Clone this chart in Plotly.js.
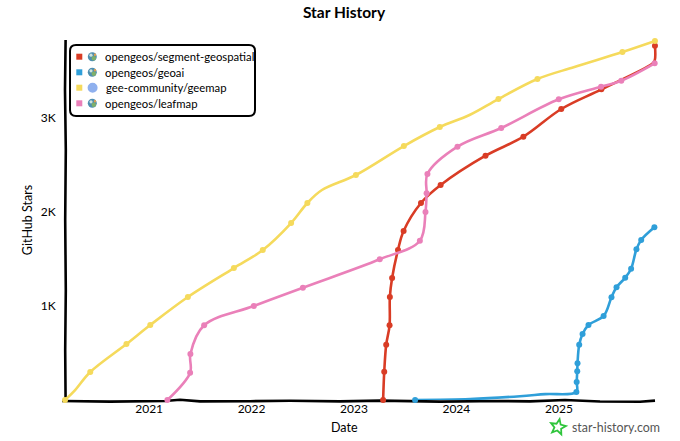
<!DOCTYPE html>
<html><head><meta charset="utf-8">
<script src="https://cdn.plot.ly/plotly-3.0.1.min.js"></script>
<style>html,body{margin:0;padding:0;background:#fff}</style></head>
<body><div id="chart" style="width:680px;height:441px"></div>
<script>
const seriesNames = ["opengeos/segment-geospatial","opengeos/geoai","gee-community/geemap","opengeos/leafmap"];
const seriesColors = ["#d93c25","#2f9fd9","#f5da5c","#ea80b9"];

const segmentDates = ["2023-04-15","2023-04-19","2023-04-26","2023-05-08","2023-05-09","2023-05-17","2023-06-07","2023-06-27","2023-08-28","2023-11-06","2024-04-14","2024-08-27","2025-01-09","2025-06-01","2025-11-28","2025-12-08","2025-12-09"];
const segmentStars = [0,301,588,795,1096,1298,1596,1798,2096,2287,2599,2801,3096,3305,3575,3610,3769];
const segmentHidden = [14,15];

const geoaiDates = ["2023-08-07","2024-02-19","2024-08-15","2024-11-13","2025-03-04","2025-03-05","2025-03-07","2025-03-08","2025-03-14","2025-03-26","2025-04-16","2025-06-09","2025-07-07","2025-07-25","2025-08-25","2025-09-15","2025-10-04","2025-10-21","2025-12-07"];
const geoaiStars = [0,10,40,62,85,191,305,390,588,702,798,894,1093,1199,1301,1397,1603,1702,1837];
const geoaiHidden = [1,2,3];

const geemapDates = ["2020-03-07","2020-04-12","2020-06-05","2020-10-12","2021-01-05","2021-05-19","2021-10-30","2022-02-10","2022-05-22","2022-07-19","2022-09-09","2023-01-08","2023-06-28","2023-11-03","2024-02-17","2024-05-30","2024-10-16","2025-02-25","2025-08-15","2025-12-09"];
const geemapStars = [0,106,298,596,798,1096,1404,1596,1883,2096,2234,2394,2702,2904,3032,3202,3415,3543,3702,3819];
const geemapHidden = [1,10,14,17];

const leafmapDates = ["2021-03-07","2021-05-27","2021-05-28","2021-07-16","2022-01-09","2022-07-03","2023-04-03","2023-08-24","2023-09-13","2023-09-17","2023-09-20","2024-01-05","2024-06-09","2024-12-31","2025-05-31","2025-08-11","2025-12-08"];
const leafmapStars = [0,290,489,795,1000,1195,1497,1695,2000,2199,2404,2695,2894,3199,3333,3397,3582];
const leafmapHidden = [];

const xTickVals = ["2021-01-01","2022-01-01","2023-01-01","2024-01-01","2025-01-01"];
const xTickText = ["2021","2022","2023","2024","2025"];
const yTickVals = [1000,2000,3000];
const yTickText = ["1K","2K","3K"];

const W=680,H=441,L=65,R=20,T=40,B=41;
const px=x=>(x-L)/(W-L-R), py=y=>(H-B-y)/(H-T-B);
const FONT='Lato, "Open Sans", sans-serif';

function tr(i,x,y,hidden){
  return {type:"scatter",mode:"lines+markers",name:seriesNames[i],x:x,y:y,showlegend:false,cliponaxis:false,
    line:{color:seriesColors[i],width:2.6,shape:"spline",smoothing:1},
    marker:{color:seriesColors[i],size:6,opacity:x.map((d,k)=>hidden.includes(k)?0:1)},hoverinfo:"x+y"};
}
const data=[
  tr(0,segmentDates,segmentStars,segmentHidden),
  tr(1,geoaiDates,geoaiStars,geoaiHidden),
  tr(2,geemapDates,geemapStars,geemapHidden),
  tr(3,leafmapDates,leafmapStars,leafmapHidden)
];

const shapes=[];
// hand-drawn axis lines
const baseWobble=[[62,401],[110,401.6],[165,401],[180,399.8],[200,401.4],[250,401.2],[290,400.8],[340,401.4],[380,400.6],[440,401.6],[500,401],[530,401.4],[565,400],[600,401.5],[640,401.8],[655,400.6]];
const leftWobble=[[65.6,40],[65,90],[65.8,150],[65.2,220],[65.8,290],[65.2,350],[65.6,401]];
[baseWobble,leftWobble].forEach(w=>shapes.push({type:"path",layer:"below",xref:"paper",yref:"paper",line:{color:"#000",width:2.6},
  path:"M"+w.map(p=>px(p[0])+","+py(p[1])).join(" L")}));
// legend box
const bx0=70,bx1=255,by0=45,by1=116,r=6;
shapes.push({type:"path",xref:"paper",yref:"paper",fillcolor:"rgba(255,255,255,0.9)",line:{color:"#000",width:2},
 path:`M${px(bx0+r)},${py(by0)} L${px(bx1-r)},${py(by0)} Q${px(bx1)},${py(by0)} ${px(bx1)},${py(by0+r)} L${px(bx1)},${py(by1-r)} Q${px(bx1)},${py(by1)} ${px(bx1-r)},${py(by1)} L${px(bx0+r)},${py(by1)} Q${px(bx0)},${py(by1)} ${px(bx0)},${py(by1-r)} L${px(bx0)},${py(by0+r)} Q${px(bx0)},${py(by0)} ${px(bx0+r)},${py(by0)} Z`});
const rows=[56.7,72.3,87.7,103.3];
const annotations=[];
function circ(cx,cy,rad,col){shapes.push({type:"circle",xref:"paper",yref:"paper",x0:px(cx-rad),x1:px(cx+rad),y0:py(cy+rad),y1:py(cy-rad),fillcolor:col,line:{width:0}});}
rows.forEach((y,i)=>{
  shapes.push({type:"rect",xref:"paper",yref:"paper",x0:px(76.3),x1:px(82.3),y0:py(y+3),y1:py(y-3),fillcolor:seriesColors[i],line:{width:0}});
  if(i===2){circ(92.6,y,5,"#8fb0ee");}
  else{circ(92.3,y,4.5,"#4f8fb0");circ(93.8,y+1.5,2.2,"#7fb069");circ(91,y-1.5,1.6,"#cfe3dc");circ(95,y-2,1.2,"#e0a050");}
  annotations.push({xref:"paper",yref:"paper",x:px(i===2?104:103),y:py(y),xanchor:"left",yanchor:"middle",showarrow:false,text:seriesNames[i],font:{family:FONT,size:11.3,color:"#000"}});
});
// star logo
const sc=[558,427],pts=[];
for(let k=0;k<10;k++){const a=-Math.PI/2+k*Math.PI/5+0.2,rr=k%2?3.6:8;pts.push([sc[0]+rr*Math.cos(a),sc[1]+rr*Math.sin(a)]);}
shapes.push({type:"path",xref:"paper",yref:"paper",fillcolor:"rgba(0,0,0,0)",line:{color:"#2fc53c",width:1.8},
 path:"M"+pts.map(p=>px(p[0])+","+py(p[1])).join(" L")+" Z"});
annotations.push({xref:"paper",yref:"paper",x:px(570),y:py(427),xanchor:"left",yanchor:"middle",showarrow:false,text:"star-history.com",font:{family:FONT,size:12.4,color:"#555"}});
annotations.push({xref:"paper",yref:"paper",x:px(344),y:py(427),xanchor:"center",yanchor:"middle",showarrow:false,text:"Date",font:{family:FONT,size:12.5,color:"#000"}});

const layout={
  width:W,height:H,margin:{l:L,r:R,t:T,b:B,pad:0},paper_bgcolor:"#fff",plot_bgcolor:"rgba(0,0,0,0)",showlegend:false,
  font:{family:FONT,color:"#000",size:12},
  title:{text:"<b>Star History</b>",x:344/W,xanchor:"center",y:1-13/H,yanchor:"middle",font:{family:FONT,size:15.5,color:"#000"}},
  xaxis:{type:"date",range:["2020-03-07","2025-12-27"],tickvals:xTickVals,ticktext:xTickText,showgrid:false,zeroline:false,
    showline:false,ticks:"",tickfont:{family:FONT,size:12,color:"#000"}},
  yaxis:{range:[0,3830],tickvals:yTickVals,ticktext:yTickText,showgrid:false,zeroline:false,
    showline:false,ticks:"outside",ticklen:6,tickcolor:"rgba(0,0,0,0)",tickfont:{family:FONT,size:12,color:"#000"},
    title:{text:"GitHub Stars",standoff:5,font:{family:FONT,size:12.5,color:"#000"}}},
  shapes:shapes,annotations:annotations
};
Plotly.newPlot("chart",data,layout,{displayModeBar:false,staticPlot:true});
</script></body></html>
